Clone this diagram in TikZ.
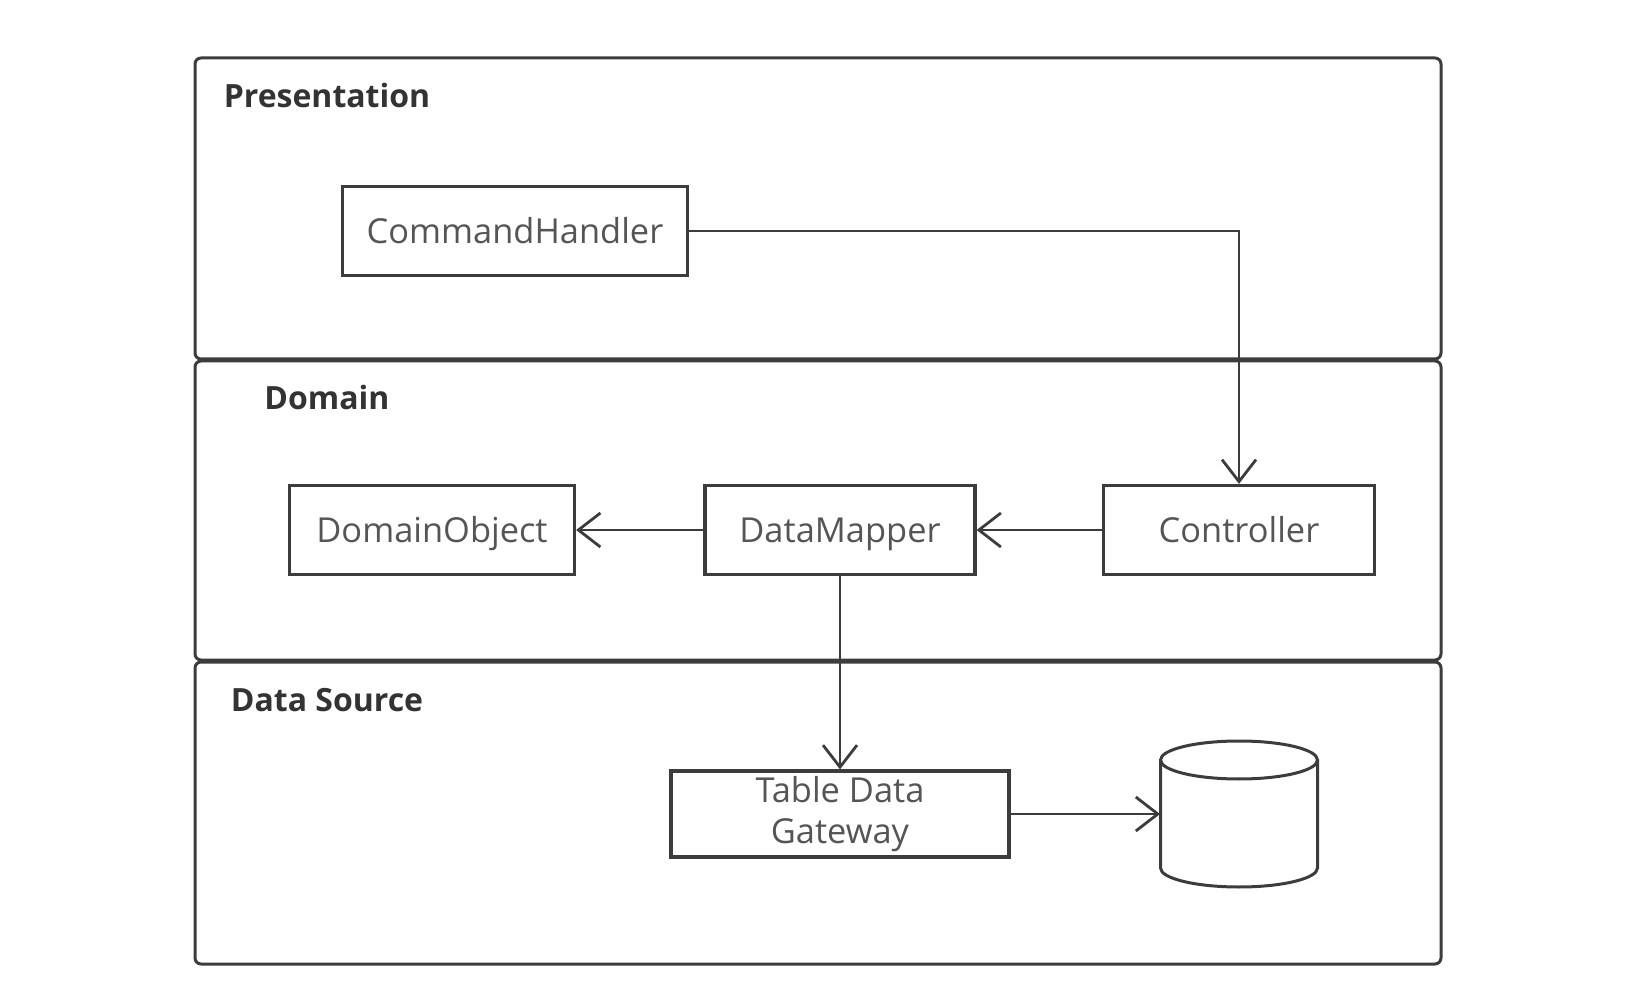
\documentclass[tikz,border=0pt]{standalone}
\usepackage{fontspec}
\setmainfont{Open Sans}
\usetikzlibrary{arrows.meta}
\definecolor{linegray}{HTML}{3C3C3C}
\definecolor{textgray}{HTML}{555555}

\begin{document}
\begin{tikzpicture}[x=0.5pt,y=-0.5pt,>={Straight Barb[length=11pt,width=17pt]},
  layer/.style={draw=linegray,line width=1.5pt,rounded corners=3pt},
  title/.style={font=\bfseries\fontsize{16}{19}\selectfont,text=black!80},
  box/.style={draw=linegray,line width=1.6pt,minimum height=44.5pt,text=textgray,
    text height=12.4pt,text depth=0pt,font=\fontsize{17.2}{20.5}\selectfont},
  link/.style={->,draw=linegray,line width=1.4pt}]
  \useasboundingbox (0,0) rectangle (1630,1000);
  % layers
  \draw[layer] (195,58) rectangle (1441,359);
  \draw[layer] (195,361) rectangle (1441,660);
  \draw[layer] (195,662) rectangle (1441,964);
  \node[title] (presentation) at (327,96) {Presentation};
  \node[title] (domain) at (327,398) {Domain};
  \node[title] (datasource) at (327,700) {Data Source};
  % components
  \node[box,minimum width=172.5pt] (handler) at (515,231) {CommandHandler};
  \node[box,minimum width=142.5pt] (domobj) at (432,530) {DomainObject};
  \node[box,minimum width=135pt] (mapper) at (840,530) {DataMapper};
  \node[box,minimum width=135.5pt] (ctrl) at (1239,530) {Controller};
  \node[box,minimum width=169pt,minimum height=43pt,inner sep=0pt,text height=,text depth=,
    align=center] (gateway) at (840,814) {Table Data\\Gateway};
  % database
  \node[minimum width=78.5pt,minimum height=73pt,inner sep=0pt] (db) at (1239,814) {};
  \draw[draw=linegray,line width=1.5pt] (1160.5,760) -- (1160.5,868)
    arc[start angle=180,end angle=0,x radius=78.5,y radius=19] -- (1317.5,760);
  \draw[draw=linegray,line width=1.5pt] (1239,760) ellipse[x radius=78.5,y radius=19];
  % connectors
  \draw[link] (handler.east) -| (ctrl.north);
  \draw[link] (ctrl.west) -- (mapper.east);
  \draw[link] (mapper.west) -- (domobj.east);
  \draw[link] (mapper.south) -- (gateway.north);
  \draw[link] (gateway.east) -- (db.west);
\end{tikzpicture}
\end{document}
